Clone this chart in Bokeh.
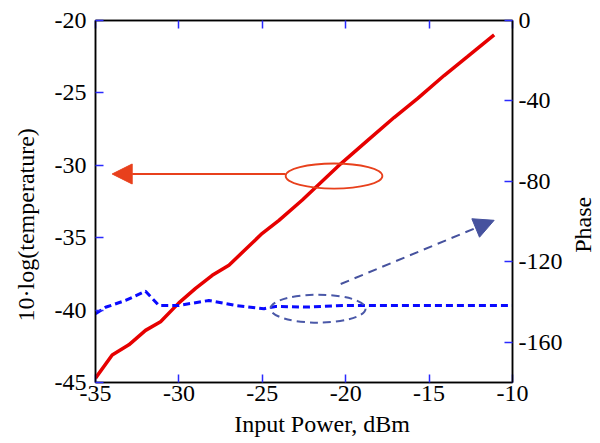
from math import pi
from bokeh.plotting import figure
from bokeh.layouts import row
from bokeh.models import (Range1d, LinearAxis, FixedTicker, Arrow, Label,
                          NormalHead, ColumnDataSource)
from bokeh.embed import file_html
from bokeh.resources import INLINE

# ---- data ----
power_temp = [-35.0, -34.0, -33.0, -32.0, -31.1, -30.0, -29.0, -28.0, -27.0, -26.0,
              -25.0, -24.0, -22.6, -20.3, -18.7, -17.1, -15.7, -14.1, -12.7, -11.1]
temperature_db = [-44.7, -43.1, -42.4, -41.4, -40.8, -39.5, -38.5, -37.6, -36.9, -35.8,
                  -34.7, -33.8, -32.4, -29.9, -28.3, -26.7, -25.4, -23.8, -22.5, -21.0]

power_phase = [-35.0, -34.4, -33.2, -32.0, -31.2, -30.0, -28.2, -26.6, -24.9, -24.2,
               -22.4, -20.0, -15.0, -10.0]
phase_deg = [-145.8, -142.6, -139.2, -134.6, -141.7, -141.7, -139.2, -141.7, -143.3, -142.2,
             -142.5, -141.7, -141.7, -141.7]

x_ticks = [-35, -30, -25, -20, -15, -10]
y_ticks = [-45, -40, -35, -30, -25, -20]
phase_ticks = [-160, -120, -80, -40, 0]

x_title = "Input Power, dBm"
y_title = "10·log(temperature)"
y2_title = "Phase"

# annotation shapes (x, y in left-axis data units)
red_ellipse = dict(x=[-20.7], y=[-30.74], w=[5.8], h=[1.73])
blue_ellipse = dict(x=[-21.66], y=[-39.9], w=[5.7], h=[1.93])
red_arrow = dict(x0=-23.6, y0=-30.6, x1=-34.0, y1=-30.6)
blue_arrow = dict(x0=-20.3, y0=-38.2, x1=-11.1, y1=-33.8)

FONT = "Liberation Serif"
TICK_BLUE = "#2a2aff"
NB = "\u00a0"
ZW = "\u200b"
H = 443
LEFT_W, RIGHT_W = 45, 30

p = figure(width=525, height=H, output_backend="svg", toolbar_location=None,
           x_range=Range1d(-35, -10), y_range=Range1d(-45, -20),
           min_border_left=50, min_border_right=58, min_border_top=20,
           min_border_bottom=61, background_fill_color="white",
           border_fill_color="white")
p.extra_y_ranges = {"phase": Range1d(-180, 0)}
p.grid.visible = False
p.outline_line_color = "black"
p.outline_line_width = 1.5


def style_axis(ax, ticks, show_labels=True):
    ax.ticker = FixedTicker(ticks=ticks)
    ax.axis_line_color = "black"
    ax.axis_line_width = 1.5
    ax.major_tick_line_color = TICK_BLUE
    ax.major_tick_line_width = 1.5
    ax.major_tick_in = 8
    ax.major_tick_out = 0
    ax.minor_tick_line_color = None
    ax.major_label_text_font = FONT
    ax.major_label_text_font_size = "24px"
    ax.major_label_text_color = "black"
    ax.major_label_overrides = {t: (str(t) if show_labels else "") for t in ticks}
    ax.axis_label_text_font = FONT
    ax.axis_label_text_font_size = "24px"
    ax.axis_label_text_font_style = "normal"
    ax.axis_label_text_color = "black"


xa = p.xaxis[0]
style_axis(xa, x_ticks)
xa.major_label_standoff = 3
xa.axis_label = ZW + NB * 6 + x_title
xa.axis_label_standoff = 7

ya = p.yaxis[0]
style_axis(ya, y_ticks)
ya.major_label_standoff = 9

right = LinearAxis(y_range_name="phase")
style_axis(right, phase_ticks)
right.major_label_standoff = 6
p.add_layout(right, "right")

top = LinearAxis()
style_axis(top, x_ticks, show_labels=False)
top.major_label_standoff = 0
p.add_layout(top, "above")

# data lines
src_t = ColumnDataSource(dict(x=power_temp, y=temperature_db))
src_p = ColumnDataSource(dict(x=power_phase, y=phase_deg))
p.line("x", "y", source=src_t, line_color="#e60000", line_width=3.5)
p.line("x", "y", source=src_p, y_range_name="phase", line_color="#0a0aff",
       line_width=3, line_dash="7 4")

# annotations
p.ellipse(x=red_ellipse["x"], y=red_ellipse["y"], width=red_ellipse["w"],
          height=red_ellipse["h"], fill_color=None, line_color="#e8401c", line_width=1.8)
p.ellipse(x=blue_ellipse["x"], y=blue_ellipse["y"], width=blue_ellipse["w"],
          height=blue_ellipse["h"], fill_color=None, line_color="#4a58a8",
          line_width=2, line_dash="8 5")

p.add_layout(Arrow(end=NormalHead(size=20, fill_color="#e8401c", line_color="#e8401c"),
                   x_start=red_arrow["x0"], y_start=red_arrow["y0"],
                   x_end=red_arrow["x1"], y_end=red_arrow["y1"],
                   line_color="#e8401c", line_width=2))
p.add_layout(Arrow(end=NormalHead(size=20, fill_color="#46529e", line_color="#46529e"),
                   x_start=blue_arrow["x0"], y_start=blue_arrow["y0"],
                   x_end=blue_arrow["x1"], y_end=blue_arrow["y1"],
                   line_color="#46529e", line_width=2, line_dash="9 6"))


def title_strip(width, text, cx, cy):
    """Narrow blank panel that carries a vertical axis title (pixel coordinates)."""
    f = figure(width=width, height=H, output_backend="svg", toolbar_location=None,
               x_range=Range1d(0, width), y_range=Range1d(0, H),
               x_axis_type=None, y_axis_type=None, min_border=0,
               background_fill_color="white", border_fill_color="white")
    f.grid.visible = False
    f.outline_line_color = None
    f.add_layout(Label(x=cx, y=H - cy, text=text, angle=pi / 2,
                       text_align="center", text_baseline="middle",
                       text_font=FONT, text_font_size="24px", text_color="black"))
    return f


left_strip = title_strip(LEFT_W, y_title, 25, 250)
right_strip = title_strip(RIGHT_W, y2_title, 12, 250)

layout = row(left_strip, p, right_strip, spacing=0)

open("out.html", "w").write(file_html(layout, INLINE))
